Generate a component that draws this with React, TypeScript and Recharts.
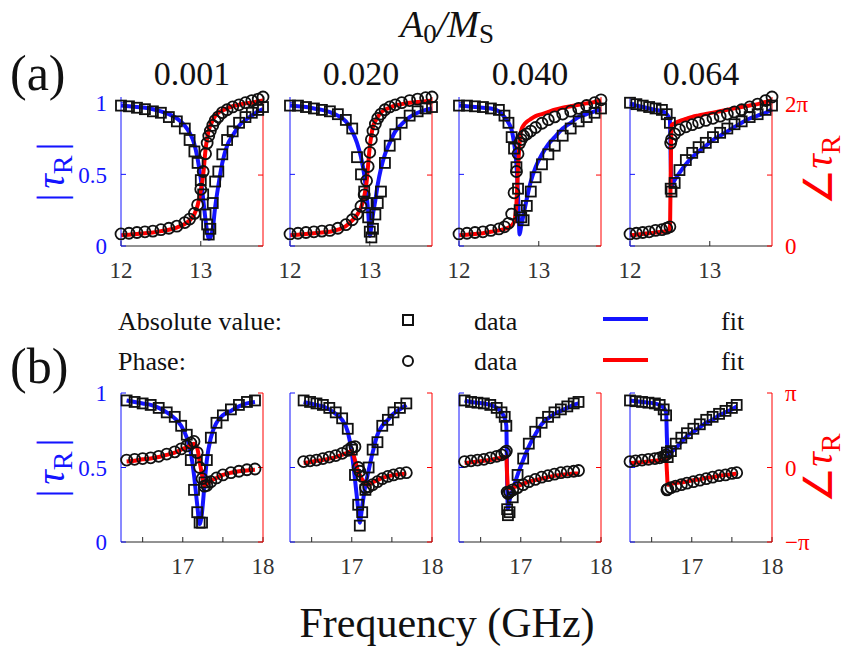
import { ComposedChart, Line, Scatter, XAxis, YAxis } from 'recharts'

// ---- row (a): 12–13.8 GHz, phase 0..2π (phase in units of π) ----
const F_A1 = [12.0, 12.1, 12.2, 12.3, 12.4, 12.5, 12.6, 12.7, 12.8, 12.86, 12.92, 12.96, 13.0, 13.03, 13.06, 13.08, 13.1, 13.12, 13.15, 13.18, 13.22, 13.27, 13.33, 13.4, 13.48, 13.56, 13.64, 13.72, 13.78]
const ABS_A1 = [0.98, 0.975, 0.965, 0.955, 0.94, 0.93, 0.9, 0.87, 0.82, 0.74, 0.66, 0.58, 0.46, 0.36, 0.22, 0.15, 0.08, 0.12, 0.3, 0.45, 0.52, 0.64, 0.74, 0.8, 0.86, 0.9, 0.93, 0.95, 0.97]
const ABS_FIT_A1 = [0.98, 0.975, 0.97, 0.965, 0.955, 0.94, 0.92, 0.89, 0.84, 0.79, 0.71, 0.61, 0.47, 0.33, 0.18, 0.1, 0.05, 0.06, 0.12, 0.27, 0.42, 0.58, 0.7, 0.77, 0.84, 0.88, 0.91, 0.94, 0.955]
const PH_A1 = [0.17, 0.18, 0.19, 0.2, 0.21, 0.23, 0.25, 0.28, 0.33, 0.38, 0.46, 0.58, 0.8, 1.05, 1.3, 1.45, 1.55, 1.62, 1.7, 1.77, 1.82, 1.88, 1.92, 1.96, 1.99, 2.02, 2.05, 2.07, 2.1]
const PH_FIT_A1 = [0.15, 0.16, 0.17, 0.18, 0.19, 0.21, 0.23, 0.26, 0.31, 0.36, 0.45, 0.57, 0.78, 1.0, 1.36, 1.52, 1.63, 1.7, 1.77, 1.83, 1.88, 1.91, 1.94, 1.97, 1.99, 2.01, 2.02, 2.04, 2.05]

const F_A2 = [12.0, 12.1, 12.2, 12.3, 12.4, 12.5, 12.6, 12.7, 12.78, 12.84, 12.89, 12.93, 12.96, 12.98, 13.0, 13.02, 13.04, 13.07, 13.1, 13.14, 13.19, 13.25, 13.32, 13.4, 13.5, 13.6, 13.7, 13.78]
const ABS_A2 = [0.98, 0.98, 0.97, 0.96, 0.95, 0.94, 0.92, 0.88, 0.82, 0.62, 0.5, 0.38, 0.3, 0.2, 0.1, 0.06, 0.12, 0.22, 0.3, 0.38, 0.58, 0.7, 0.78, 0.86, 0.91, 0.94, 0.96, 0.97]
const ABS_FIT_A2 = [0.98, 0.975, 0.97, 0.96, 0.95, 0.935, 0.91, 0.87, 0.8, 0.72, 0.62, 0.5, 0.36, 0.24, 0.07, 0.14, 0.22, 0.32, 0.43, 0.54, 0.64, 0.72, 0.8, 0.85, 0.9, 0.93, 0.95, 0.96]
const PH_A2 = [0.17, 0.18, 0.19, 0.2, 0.21, 0.22, 0.25, 0.3, 0.37, 0.45, 0.56, 0.72, 0.92, 1.12, 1.32, 1.5, 1.62, 1.72, 1.8, 1.86, 1.92, 1.96, 1.99, 2.02, 2.05, 2.07, 2.09, 2.1]
const PH_FIT_A2 = [0.15, 0.16, 0.17, 0.18, 0.19, 0.2, 0.23, 0.28, 0.36, 0.44, 0.54, 0.7, 0.9, 1.15, 1.4, 1.56, 1.68, 1.76, 1.82, 1.88, 1.92, 1.95, 1.98, 2.0, 2.02, 2.03, 2.04, 2.05]

const F_A3 = [12.0, 12.1, 12.2, 12.3, 12.4, 12.5, 12.57, 12.62, 12.66, 12.69, 12.72, 12.74, 12.76, 12.78, 12.81, 12.85, 12.9, 12.96, 13.04, 13.12, 13.2, 13.3, 13.4, 13.5, 13.6, 13.7, 13.78]
const ABS_A3 = [0.98, 0.98, 0.975, 0.97, 0.96, 0.95, 0.91, 0.86, 0.76, 0.68, 0.55, 0.4, 0.25, 0.2, 0.18, 0.28, 0.38, 0.48, 0.57, 0.64, 0.7, 0.77, 0.82, 0.87, 0.9, 0.93, 0.96]
const ABS_FIT_A3 = [0.98, 0.975, 0.97, 0.965, 0.96, 0.94, 0.9, 0.86, 0.81, 0.72, 0.57, 0.35, 0.08, 0.14, 0.22, 0.33, 0.45, 0.55, 0.64, 0.71, 0.76, 0.82, 0.86, 0.9, 0.92, 0.94, 0.955]
const PH_A3 = [0.17, 0.18, 0.19, 0.2, 0.22, 0.24, 0.27, 0.32, 0.45, 0.75, 1.05, 1.3, 1.45, 1.5, 1.55, 1.58, 1.62, 1.67, 1.73, 1.78, 1.82, 1.86, 1.9, 1.94, 1.98, 2.02, 2.06]
const PH_FIT_A3 = [0.15, 0.16, 0.17, 0.18, 0.2, 0.22, 0.24, 0.26, 0.29, 0.34, 0.6, 1.1, 1.45, 1.63, 1.7, 1.75, 1.79, 1.83, 1.86, 1.89, 1.92, 1.95, 1.97, 1.99, 2.01, 2.03, 2.05]

const F_A4 = [12.0, 12.08, 12.16, 12.24, 12.32, 12.4, 12.46, 12.5, 12.51, 12.52, 12.56, 12.62, 12.7, 12.78, 12.86, 12.95, 13.04, 13.13, 13.22, 13.31, 13.4, 13.5, 13.6, 13.7, 13.78]
const ABS_A4 = [1.0, 0.99, 0.98, 0.97, 0.96, 0.95, 0.92, 0.86, 0.4, 0.38, 0.44, 0.53, 0.6, 0.65, 0.69, 0.72, 0.76, 0.79, 0.82, 0.85, 0.87, 0.9, 0.92, 0.95, 0.98]
const ABS_FIT_A4 = [0.99, 0.98, 0.97, 0.96, 0.95, 0.94, 0.92, 0.88, 0.6, 0.42, 0.46, 0.51, 0.57, 0.62, 0.66, 0.7, 0.74, 0.77, 0.8, 0.83, 0.86, 0.89, 0.91, 0.93, 0.955]
const PH_A4 = [0.17, 0.18, 0.19, 0.2, 0.22, 0.23, 0.25, 0.27, 1.45, 1.5, 1.58, 1.64, 1.68, 1.71, 1.74, 1.77, 1.8, 1.83, 1.86, 1.89, 1.92, 1.96, 2.0, 2.05, 2.1]
const PH_FIT_A4 = [0.15, 0.16, 0.17, 0.18, 0.19, 0.2, 0.21, 0.22, 1.0, 1.7, 1.73, 1.76, 1.79, 1.82, 1.84, 1.86, 1.88, 1.9, 1.92, 1.94, 1.96, 1.98, 2.0, 2.03, 2.05]

// ---- row (b): 16.2–18 GHz, phase -π..π ----
const F_B1 = [16.3, 16.4, 16.5, 16.6, 16.7, 16.8, 16.9, 16.98, 17.05, 17.1, 17.14, 17.18, 17.21, 17.24, 17.27, 17.3, 17.35, 17.42, 17.5, 17.6, 17.7, 17.8, 17.9]
const ABS_B1 = [0.95, 0.94, 0.93, 0.92, 0.9, 0.87, 0.84, 0.78, 0.72, 0.55, 0.35, 0.2, 0.13, 0.13, 0.4, 0.55, 0.7, 0.8, 0.85, 0.89, 0.92, 0.94, 0.95]
const ABS_FIT_B1 = [0.95, 0.94, 0.93, 0.92, 0.9, 0.87, 0.83, 0.78, 0.7, 0.6, 0.45, 0.25, 0.12, 0.2, 0.38, 0.55, 0.7, 0.8, 0.85, 0.88, 0.91, 0.93, 0.94]
const PH_B1 = [0.1, 0.11, 0.12, 0.13, 0.15, 0.18, 0.21, 0.25, 0.29, 0.33, 0.35, 0.2, 0.0, -0.15, -0.25, -0.24, -0.19, -0.14, -0.1, -0.07, -0.05, -0.03, -0.02]
const PH_FIT_B1 = [0.08, 0.09, 0.11, 0.12, 0.14, 0.17, 0.2, 0.24, 0.27, 0.3, 0.32, 0.26, 0.08, -0.1, -0.24, -0.22, -0.18, -0.14, -0.1, -0.07, -0.05, -0.04, -0.03]

const F_B2 = [16.4, 16.48, 16.56, 16.64, 16.72, 16.8, 16.88, 16.95, 17.0, 17.04, 17.08, 17.1, 17.13, 17.17, 17.21, 17.26, 17.32, 17.38, 17.45, 17.52, 17.6, 17.68]
const ABS_B2 = [0.95, 0.94, 0.93, 0.92, 0.9, 0.87, 0.83, 0.76, 0.62, 0.45, 0.25, 0.11, 0.2, 0.35, 0.5, 0.62, 0.67, 0.78, 0.82, 0.87, 0.9, 0.93]
const ABS_FIT_B2 = [0.94, 0.93, 0.92, 0.91, 0.89, 0.86, 0.82, 0.74, 0.6, 0.42, 0.22, 0.13, 0.24, 0.38, 0.48, 0.6, 0.72, 0.78, 0.82, 0.86, 0.89, 0.92]
const PH_B2 = [0.08, 0.09, 0.1, 0.12, 0.14, 0.16, 0.19, 0.23, 0.27, 0.28, 0.0, -0.05, -0.12, -0.27, -0.26, -0.23, -0.19, -0.15, -0.12, -0.1, -0.08, -0.07]
const PH_FIT_B2 = [0.06, 0.07, 0.09, 0.1, 0.12, 0.14, 0.17, 0.2, 0.22, 0.1, -0.05, -0.1, -0.16, -0.22, -0.23, -0.2, -0.17, -0.14, -0.12, -0.1, -0.09, -0.08]

const F_B3 = [16.3, 16.38, 16.46, 16.54, 16.62, 16.7, 16.76, 16.8, 16.82, 16.83, 16.84, 16.86, 16.9, 16.96, 17.03, 17.1, 17.18, 17.26, 17.34, 17.42, 17.5, 17.58, 17.66, 17.72]
const ABS_B3 = [0.95, 0.94, 0.935, 0.93, 0.92, 0.9, 0.87, 0.84, 0.78, 0.22, 0.18, 0.2, 0.3, 0.45, 0.56, 0.66, 0.74, 0.8, 0.84, 0.87, 0.89, 0.91, 0.93, 0.94]
const ABS_FIT_B3 = [0.95, 0.94, 0.935, 0.93, 0.92, 0.9, 0.87, 0.83, 0.78, 0.4, 0.22, 0.28, 0.35, 0.45, 0.55, 0.64, 0.72, 0.79, 0.83, 0.86, 0.88, 0.9, 0.92, 0.93]
const PH_B3 = [0.08, 0.09, 0.1, 0.11, 0.13, 0.15, 0.17, 0.2, 0.22, -0.33, -0.35, -0.33, -0.3, -0.27, -0.23, -0.19, -0.16, -0.13, -0.11, -0.09, -0.07, -0.06, -0.05, -0.04]
const PH_FIT_B3 = [0.06, 0.07, 0.08, 0.09, 0.1, 0.12, 0.13, 0.14, 0.14, -0.1, -0.28, -0.28, -0.27, -0.25, -0.22, -0.19, -0.17, -0.15, -0.13, -0.11, -0.1, -0.09, -0.08, -0.08]

const F_B4 = [16.23, 16.3, 16.38, 16.46, 16.54, 16.6, 16.65, 16.68, 16.69, 16.7, 16.74, 16.8, 16.87, 16.94, 17.02, 17.1, 17.18, 17.26, 17.34, 17.42, 17.5, 17.56]
const ABS_B4 = [0.95, 0.945, 0.94, 0.935, 0.93, 0.92, 0.89, 0.85, 0.6, 0.57, 0.61, 0.66, 0.7, 0.73, 0.76, 0.79, 0.82, 0.84, 0.86, 0.88, 0.9, 0.92]
const ABS_FIT_B4 = [0.95, 0.945, 0.94, 0.935, 0.93, 0.92, 0.9, 0.87, 0.7, 0.58, 0.6, 0.63, 0.67, 0.71, 0.74, 0.77, 0.8, 0.82, 0.85, 0.87, 0.89, 0.91]
const PH_B4 = [0.08, 0.09, 0.1, 0.11, 0.12, 0.13, 0.15, 0.17, -0.3, -0.29, -0.27, -0.25, -0.23, -0.21, -0.19, -0.17, -0.15, -0.13, -0.11, -0.1, -0.08, -0.07]
const PH_FIT_B4 = [0.06, 0.065, 0.07, 0.08, 0.09, 0.1, 0.11, 0.12, -0.05, -0.23, -0.22, -0.21, -0.2, -0.19, -0.17, -0.16, -0.14, -0.13, -0.11, -0.1, -0.09, -0.08]

const RATIOS = ['0.001', '0.020', '0.040', '0.064']

const SERIF = 'Liberation Serif, Times New Roman, serif'
const BLUE = '#1414ff'
const RED = '#ff0000'
const INK = '#262626'

// plot box and axis space of every small chart
const PW = 142
const PH = 149
const LW = 60
const RW = 50
const MT = 14
const BH = 40
const LEFTS = [121, 290, 459, 630]

const ROWS = {
  a: {
    top: 97,
    xDomain: [12, 13.78],
    xTicks: [12, 13],
    xText: (v: number) => String(v),
    absMax: 1.04,
    phDomain: [0, 2.1],
    phTicks: [0, 1, 2],
    phText: (v: number) => (v === 0 ? '0' : v === 2 ? '2π' : ''),
  },
  b: {
    top: 393,
    xDomain: [16.23, 18],
    xTicks: [16.5, 17, 17.5, 18],
    xText: (v: number) => (v === 17 || v === 18 ? String(v) : ''),
    absMax: 1,
    phDomain: [-1, 1],
    phTicks: [-1, 0, 1],
    phText: (v: number) => (v === 0 ? '0' : v === 1 ? 'π' : '−π'),
  },
}

function Square(p: any) {
  if (p.cx == null || p.cy == null) return null
  return <rect x={p.cx - 5} y={p.cy - 5} width={10} height={10} fill="none" stroke="#111" strokeWidth={1.8} />
}

function Ring(p: any) {
  if (p.cx == null || p.cy == null) return null
  return <circle cx={p.cx} cy={p.cy} r={5.5} fill="none" stroke="#111" strokeWidth={1.8} />
}

type PanelProps = {
  row: 'a' | 'b'
  idx: number
  f: number[]
  abs: number[]
  absFit: number[]
  ph: number[]
  phFit: number[]
}

function Panel({ row, idx, f, abs, absFit, ph, phFit }: PanelProps) {
  const cfg = ROWS[row]
  const data = f.map((v, i) => ({ f: v, abs: abs[i], absFit: absFit[i], ph: ph[i], phFit: phFit[i] }))
  const first = idx === 0
  const last = idx === 3
  const tickFont = { fontSize: 23, fontFamily: SERIF }
  return (
    <div style={{ position: 'absolute', left: LEFTS[idx] - LW, top: cfg.top - MT }}>
      <ComposedChart
        width={LW + PW + RW}
        height={MT + PH + BH}
        data={data}
        margin={{ top: MT, right: 0, bottom: 0, left: 0 }}
      >
        <XAxis
          xAxisId="b"
          dataKey="f"
          type="number"
          domain={cfg.xDomain}
          ticks={cfg.xTicks}
          interval={0}
          height={BH}
          tickSize={-5}
          tickMargin={21}
          tickFormatter={cfg.xText}
          tick={{ ...tickFont, fill: '#333' }}
          axisLine={{ stroke: INK }}
          tickLine={{ stroke: INK }}
        />
        <XAxis
          xAxisId="t"
          dataKey="f"
          orientation="top"
          type="number"
          domain={cfg.xDomain}
          allowDataOverflow
          ticks={cfg.xTicks}
          interval={0}
          height={0}
          tickSize={-5}
          tick={false}
          axisLine={{ stroke: INK }}
          tickLine={{ stroke: INK }}
        />
        <YAxis
          yAxisId="l"
          type="number"
          domain={[0, cfg.absMax]}
          ticks={[0, 0.5, 1]}
          interval={0}
          width={LW}
          tickSize={-5}
          tickMargin={19}
          tickFormatter={(v: number) => (first ? String(v) : '')}
          tick={{ ...tickFont, fill: BLUE }}
          axisLine={{ stroke: BLUE }}
          tickLine={{ stroke: BLUE }}
        />
        <YAxis
          yAxisId="r"
          orientation="right"
          type="number"
          domain={cfg.phDomain}
          ticks={cfg.phTicks}
          interval={0}
          width={RW}
          tickSize={-5}
          tickMargin={18}
          tickFormatter={(v: number) => (last ? cfg.phText(v) : '')}
          tick={{ ...tickFont, fill: RED }}
          axisLine={{ stroke: RED }}
          tickLine={{ stroke: RED }}
        />
        <Scatter xAxisId="b" yAxisId="l" dataKey="abs" shape={Square} isAnimationActive={false} />
        <Scatter xAxisId="b" yAxisId="r" dataKey="ph" shape={Ring} isAnimationActive={false} />
        <Line
          xAxisId="b"
          yAxisId="l"
          dataKey="absFit"
          type="monotone"
          stroke={BLUE}
          strokeWidth={4}
          dot={false}
          isAnimationActive={false}
        />
        <Line
          xAxisId="b"
          yAxisId="r"
          dataKey="phFit"
          type="monotone"
          stroke={RED}
          strokeWidth={4}
          dot={false}
          isAnimationActive={false}
        />
      </ComposedChart>
    </div>
  )
}

function AbsLabel({ cy }: { cy: number }) {
  return (
    <text transform={`translate(64,${cy}) rotate(-90)`} textAnchor="middle" fontSize={40} fill={BLUE}>
      |<tspan dx={5} fontStyle="italic">τ</tspan>
      <tspan fontSize={28} dy={8}>R</tspan>
      <tspan dx={5} dy={-8}>|</tspan>
    </text>
  )
}

function PhaseLabel({ cy }: { cy: number }) {
  return (
    <text transform={`translate(832,${cy}) rotate(-90)`} textAnchor="middle" fontSize={40} fill={RED}>
      ∠<tspan fontStyle="italic">τ</tspan>
      <tspan fontSize={28} dy={8}>R</tspan>
    </text>
  )
}

export default function App() {
  return (
    <div style={{ position: 'absolute', left: 0, top: 0, width: 858, height: 648, background: '#fff' }}>
      <svg width={858} height={648} style={{ position: 'absolute', left: 0, top: 0, fontFamily: SERIF }}>
        <text x={447} y={37} textAnchor="middle" fontSize={38} fontStyle="italic" fill="#111">
          A<tspan fontSize={27} fontStyle="normal" dy={6}>0</tspan>
          <tspan dy={-6}>/M</tspan>
          <tspan fontSize={27} fontStyle="normal" dy={6}>S</tspan>
        </text>
        <text x={10} y={90} fontSize={50} fill="#111">(a)</text>
        <text x={10} y={383} fontSize={50} fill="#111">(b)</text>
        {RATIOS.map((r, i) => (
          <text key={r} x={LEFTS[i] + PW / 2} y={85} textAnchor="middle" fontSize={34} fill="#111">
            {r}
          </text>
        ))}
        <AbsLabel cy={172} />
        <AbsLabel cy={468} />
        <PhaseLabel cy={170} />
        <PhaseLabel cy={468} />

        <text x={118} y={330} fontSize={26} fill="#111">Absolute value:</text>
        <rect x={403} y={315} width={10} height={10} fill="none" stroke="#111" strokeWidth={2} />
        <text x={474} y={330} fontSize={26} fill="#111">data</text>
        <line x1={603} x2={648} y1={319} y2={319} stroke={BLUE} strokeWidth={4} />
        <text x={721} y={330} fontSize={26} fill="#111">fit</text>

        <text x={118} y={370} fontSize={26} fill="#111">Phase:</text>
        <circle cx={408} cy={361} r={5} fill="none" stroke="#111" strokeWidth={2} />
        <text x={474} y={370} fontSize={26} fill="#111">data</text>
        <line x1={603} x2={648} y1={360} y2={360} stroke={RED} strokeWidth={4} />
        <text x={721} y={370} fontSize={26} fill="#111">fit</text>

        <text x={447} y={637} textAnchor="middle" fontSize={42} fill="#111">Frequency (GHz)</text>
      </svg>

      <Panel row="a" idx={0} f={F_A1} abs={ABS_A1} absFit={ABS_FIT_A1} ph={PH_A1} phFit={PH_FIT_A1} />
      <Panel row="a" idx={1} f={F_A2} abs={ABS_A2} absFit={ABS_FIT_A2} ph={PH_A2} phFit={PH_FIT_A2} />
      <Panel row="a" idx={2} f={F_A3} abs={ABS_A3} absFit={ABS_FIT_A3} ph={PH_A3} phFit={PH_FIT_A3} />
      <Panel row="a" idx={3} f={F_A4} abs={ABS_A4} absFit={ABS_FIT_A4} ph={PH_A4} phFit={PH_FIT_A4} />
      <Panel row="b" idx={0} f={F_B1} abs={ABS_B1} absFit={ABS_FIT_B1} ph={PH_B1} phFit={PH_FIT_B1} />
      <Panel row="b" idx={1} f={F_B2} abs={ABS_B2} absFit={ABS_FIT_B2} ph={PH_B2} phFit={PH_FIT_B2} />
      <Panel row="b" idx={2} f={F_B3} abs={ABS_B3} absFit={ABS_FIT_B3} ph={PH_B3} phFit={PH_FIT_B3} />
      <Panel row="b" idx={3} f={F_B4} abs={ABS_B4} absFit={ABS_FIT_B4} ph={PH_B4} phFit={PH_FIT_B4} />
    </div>
  )
}
